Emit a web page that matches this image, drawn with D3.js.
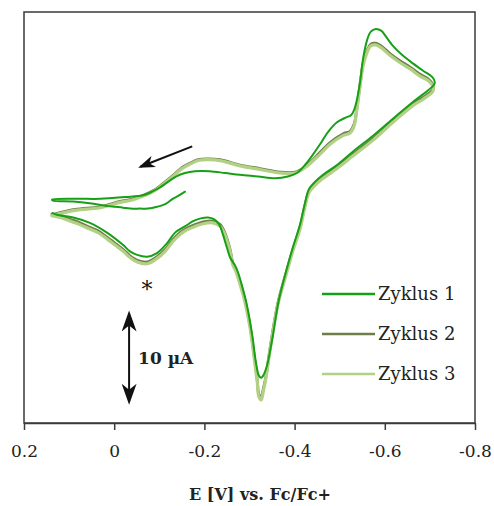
<!DOCTYPE html>
<html>
<head>
<meta charset="utf-8">
<script src="https://d3js.org/d3.v7.min.js"></script>
<style>
  body, html { margin: 0; background: #fff; }
  text { font-family: 'DejaVu Serif', serif; fill: #222; }
  .frame { fill: none; stroke: #3a3a3a; stroke-width: 1.5px; }
  .cv { fill: none; stroke-linejoin: round; stroke-linecap: round; }
</style>
</head>
<body>
<div id="chart"></div>
<script>
// potential ticks (V vs. Fc/Fc+)
var ticks = [0.2, 0, -0.2, -0.4, -0.6, -0.8];
var seriesNames = ["Zyklus 1", "Zyklus 2", "Zyklus 3"];
var colors = ["#17a017", "#6f7d48", "#b3d185"];

// [E (V), I (µA)]
var zyklus1 = [
  [-0.157,-0.2],[-0.141,-0.7],[-0.130,-1.0],[-0.113,-1.6],[-0.095,-1.9],[-0.075,-2.1],
  [-0.057,-2.1],[-0.035,-2.1],[-0.020,-2.0],[-0.002,-1.9],[0.016,-1.8],[0.054,-1.5],
  [0.091,-1.3],[0.136,-1.2],[0.138,-1.1],[0.087,-1.0],[0.031,-1.0],[-0.024,-0.8],
  [-0.064,-0.6],[-0.084,-0.2],[-0.102,0.3],[-0.119,0.9],[-0.137,1.5],[-0.157,1.9],
  [-0.179,2.1],[-0.212,2.1],[-0.246,1.9],[-0.279,1.7],[-0.319,1.5],[-0.357,1.3],
  [-0.385,1.5],[-0.405,1.9],[-0.423,2.8],[-0.441,4.0],[-0.456,5.1],[-0.474,6.5],
  [-0.494,7.6],[-0.512,8.1],[-0.525,8.4],[-0.532,9.0],[-0.538,10.1],[-0.545,12.1],
  [-0.552,14.8],[-0.561,16.9],[-0.569,17.8],[-0.580,18.1],[-0.592,17.9],[-0.603,17.2],
  [-0.618,16.2],[-0.640,15.1],[-0.663,14.2],[-0.685,13.4],[-0.705,12.7],[-0.711,12.1],
  [-0.707,11.7],[-0.663,9.9],[-0.618,8.0],[-0.574,6.1],[-0.529,4.3],[-0.494,2.8],
  [-0.463,1.7],[-0.445,0.9],[-0.432,0.1],[-0.423,-1.5],[-0.412,-3.9],[-0.396,-6.5],
  [-0.383,-8.8],[-0.365,-12.4],[-0.350,-16.9],[-0.339,-19.7],[-0.330,-20.9],[-0.326,-21.1],
  [-0.321,-20.9],[-0.314,-19.3],[-0.306,-16.3],[-0.294,-12.9],[-0.283,-10.7],[-0.274,-9.2],
  [-0.268,-8.5],[-0.257,-7.6],[-0.250,-6.5],[-0.241,-5.0],[-0.233,-3.9],[-0.222,-3.3],
  [-0.208,-3.1],[-0.192,-3.2],[-0.175,-3.5],[-0.160,-4.0],[-0.135,-4.8],[-0.117,-6.0],
  [-0.095,-7.1],[-0.073,-7.5],[-0.051,-7.3],[-0.035,-6.9],[-0.020,-6.2],[0.016,-4.8],
  [0.054,-3.7],[0.091,-3.1],[0.127,-2.8],[0.136,-2.6]
];
var zyklus2 = [
  [0.138,-2.8],[0.087,-2.2],[0.031,-1.9],[-0.013,-1.3],[-0.042,-1.0],[-0.086,-0.1],
  [-0.108,0.7],[-0.130,1.6],[-0.150,2.5],[-0.168,3.0],[-0.186,3.4],[-0.206,3.5],
  [-0.235,3.4],[-0.279,2.8],[-0.323,2.4],[-0.368,2.0],[-0.401,2.0],[-0.423,2.6],
  [-0.456,4.2],[-0.478,5.3],[-0.507,6.3],[-0.523,6.6],[-0.532,7.4],[-0.538,9.2],
  [-0.545,11.8],[-0.552,14.2],[-0.561,15.7],[-0.569,16.4],[-0.580,16.5],[-0.592,16.2],
  [-0.612,15.3],[-0.634,14.5],[-0.656,13.8],[-0.678,13.0],[-0.696,12.5],[-0.707,11.8],
  [-0.707,11.3],[-0.685,10.4],[-0.663,9.7],[-0.618,7.8],[-0.574,5.8],[-0.529,4.0],
  [-0.494,2.6],[-0.463,1.5],[-0.445,0.7],[-0.432,-0.1],[-0.423,-1.7],[-0.412,-4.2],
  [-0.396,-6.7],[-0.383,-9.0],[-0.363,-12.7],[-0.345,-18.0],[-0.337,-20.8],[-0.330,-22.5],
  [-0.326,-23.3],[-0.321,-23.0],[-0.317,-21.3],[-0.310,-18.5],[-0.301,-15.2],[-0.290,-12.4],
  [-0.279,-10.4],[-0.270,-9.0],[-0.263,-8.2],[-0.257,-6.7],[-0.246,-4.9],[-0.235,-3.9],
  [-0.219,-3.5],[-0.197,-3.6],[-0.179,-3.9],[-0.161,-4.3],[-0.146,-4.8],[-0.130,-5.6],
  [-0.113,-6.7],[-0.095,-7.5],[-0.073,-8.1],[-0.051,-7.9],[-0.035,-7.4],[-0.020,-6.7],
  [-0.002,-6.0],[0.016,-5.3],[0.036,-4.6],[0.054,-4.2],[0.076,-3.7],[0.098,-3.3],
  [0.120,-2.9],[0.138,-2.7]
];
var zyklus3 = [
  [0.138,-2.9],[0.087,-2.3],[0.031,-2.0],[-0.013,-1.4],[-0.042,-1.1],[-0.086,-0.2],
  [-0.108,0.6],[-0.130,1.5],[-0.150,2.4],[-0.168,2.9],[-0.186,3.3],[-0.206,3.4],
  [-0.235,3.3],[-0.279,2.7],[-0.323,2.3],[-0.368,1.9],[-0.401,1.9],[-0.423,2.5],
  [-0.456,4.0],[-0.478,5.1],[-0.507,6.1],[-0.523,6.4],[-0.532,7.2],[-0.538,9.0],
  [-0.545,11.6],[-0.552,14.0],[-0.561,15.5],[-0.569,16.2],[-0.580,16.3],[-0.592,16.0],
  [-0.612,15.1],[-0.634,14.3],[-0.656,13.6],[-0.678,12.8],[-0.696,12.3],[-0.707,11.6],
  [-0.707,11.1],[-0.685,10.2],[-0.663,9.5],[-0.618,7.6],[-0.574,5.6],[-0.529,3.8],
  [-0.494,2.4],[-0.463,1.3],[-0.445,0.5],[-0.432,-0.3],[-0.423,-1.9],[-0.412,-4.4],
  [-0.396,-6.9],[-0.383,-9.2],[-0.363,-12.9],[-0.345,-18.2],[-0.337,-21.0],[-0.330,-22.8],
  [-0.326,-23.6],[-0.321,-23.3],[-0.317,-21.5],[-0.310,-18.7],[-0.301,-15.4],[-0.290,-12.6],
  [-0.279,-10.6],[-0.270,-9.2],[-0.263,-8.4],[-0.257,-6.9],[-0.246,-5.1],[-0.235,-4.1],
  [-0.219,-3.7],[-0.197,-3.8],[-0.179,-4.1],[-0.161,-4.5],[-0.146,-5.0],[-0.130,-5.8],
  [-0.113,-6.9],[-0.095,-7.7],[-0.073,-8.3],[-0.051,-8.1],[-0.035,-7.6],[-0.020,-6.9],
  [-0.002,-6.2],[0.016,-5.5],[0.036,-4.8],[0.054,-4.4],[0.076,-3.9],[0.098,-3.5],
  [0.120,-3.1],[0.138,-2.9]
];

var W = 494, H = 506;
var margin = {left: 24, right: 19, top: 12, bottom: 83};

var svg = d3.select("#chart").append("svg")
  .attr("width", W).attr("height", H);

var x = d3.scaleLinear().domain([0.2, -0.8]).range([margin.left, W - margin.right]);
var y = d3.scaleLinear().domain([-26.2, 20]).range([H - margin.bottom, margin.top]);

var defs = svg.append("defs");
function addHead(id, w, h) {
  defs.append("marker")
    .attr("id", id)
    .attr("viewBox", "0 0 14 10")
    .attr("refX", 12).attr("refY", 5)
    .attr("markerWidth", w).attr("markerHeight", h)
    .attr("markerUnits", "userSpaceOnUse")
    .attr("orient", "auto-start-reverse")
    .append("path")
    .attr("d", "M0,0 L14,5 L0,10 L4,5 Z")
    .attr("fill", "#111");
}
addHead("headBig", 22, 15);
addHead("headSmall", 17, 12);

// frame
svg.append("rect").attr("class", "frame")
  .attr("x", x(0.2)).attr("y", y(20))
  .attr("width", x(-0.8) - x(0.2))
  .attr("height", y(-26.2) - y(20));

// bottom axis
var xAxis = svg.append("g")
  .attr("transform", "translate(0," + y(-26.2) + ")")
  .call(d3.axisBottom(x).tickValues(ticks).tickSize(7).tickSizeOuter(0)
    .tickFormat(function(d) { return d === 0 ? "0" : d3.format(".1f")(d).replace("−", "-"); }));
xAxis.select(".domain").attr("stroke", "#3a3a3a").attr("stroke-width", 1.5);
xAxis.selectAll(".tick line").attr("stroke", "#3a3a3a").attr("stroke-width", 1.5);
xAxis.selectAll(".tick text")
  .attr("y", 22)
  .attr("dy", "0.71em")
  .style("font-family", "'DejaVu Serif', serif")
  .style("font-size", "17px")
  .attr("fill", "#222");

svg.append("text")
  .attr("x", 260).attr("y", 500)
  .attr("text-anchor", "middle")
  .style("font-size", "16px").style("font-weight", "bold")
  .text("E [V] vs. Fc/Fc+");

// curves
var line = d3.line()
  .x(function(d) { return x(d[0]); })
  .y(function(d) { return y(d[1]); })
  .curve(d3.curveCatmullRom.alpha(0.5));

var data = [zyklus2, zyklus3, zyklus1];
var idx = [1, 2, 0];
var widths = [2.8, 3.2, 2.0];
svg.append("g").selectAll("path")
  .data(data)
  .enter().append("path")
  .attr("class", "cv")
  .attr("d", line)
  .attr("stroke", function(d, i) { return colors[idx[i]]; })
  .attr("stroke-width", function(d, i) { return widths[i]; });

// scan direction arrow
svg.append("line")
  .attr("x1", x(-0.173)).attr("y1", y(4.9))
  .attr("x2", x(-0.058)).attr("y2", y(2.6))
  .attr("stroke", "#111").attr("stroke-width", 2)
  .attr("marker-end", "url(#headSmall)");

// asterisk
svg.append("text")
  .attr("x", x(-0.073)).attr("y", y(-12.0))
  .attr("text-anchor", "middle")
  .style("font-size", "22px")
  .style("fill", "#111")
  .text("*");

// 10 µA scale bar
svg.append("line")
  .attr("x1", x(-0.033)).attr("y1", y(-13.9))
  .attr("x2", x(-0.033)).attr("y2", y(-23.8))
  .attr("stroke", "#111").attr("stroke-width", 2)
  .attr("marker-start", "url(#headBig)")
  .attr("marker-end", "url(#headBig)");
svg.append("text")
  .attr("x", x(-0.033) + 9).attr("y", y(-18.9) + 6)
  .style("font-size", "17px").style("font-weight", "bold")
  .text("10 µA");

// legend
var legend = svg.append("g").selectAll("g")
  .data(seriesNames)
  .enter().append("g")
  .attr("transform", function(d, i) { return "translate(322," + (294 + i * 40) + ")"; });
legend.append("line")
  .attr("x1", 0).attr("x2", 53)
  .attr("stroke", function(d, i) { return colors[i]; })
  .attr("stroke-width", 2.6);
legend.append("text")
  .attr("x", 56).attr("y", 6)
  .style("font-size", "18px")
  .text(function(d) { return d; });
</script>
</body>
</html>
